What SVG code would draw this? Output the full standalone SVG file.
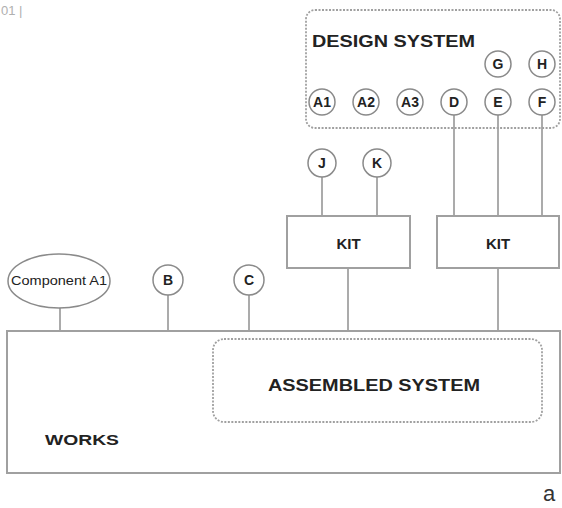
<svg xmlns="http://www.w3.org/2000/svg" width="562" height="508" viewBox="0 0 562 508">
<style>
.c{fill:#fff;stroke:#8a8a8a;stroke-width:1.5}
.box{fill:#fff;stroke:#a0a0a0;stroke-width:2}
.dot{fill:none;stroke:#a0a0a0;stroke-width:1.8;stroke-dasharray:2 1.5}
.lbl{font-family:"Liberation Sans",Arial,sans-serif;font-weight:bold;font-size:14px;fill:#222;text-anchor:middle}
.big{font-family:"Liberation Sans",Arial,sans-serif;font-weight:bold;fill:#222}
#connectors line{stroke:#8f8f8f;stroke-width:1.5}
</style>
<rect width="562" height="508" fill="#fff"/>
<text x="1" y="15" font-family="Liberation Sans,Arial,sans-serif" font-size="13" fill="#b0b0b0">01 |</text>
<g id="connectors">
<line x1="322" y1="177" x2="322" y2="216"/>
<line x1="377" y1="177" x2="377" y2="216"/>
<line x1="454" y1="115" x2="454" y2="216"/>
<line x1="498" y1="115" x2="498" y2="216"/>
<line x1="542" y1="115" x2="542" y2="216"/>
<line x1="348" y1="268" x2="348" y2="331"/>
<line x1="498" y1="268" x2="498" y2="331"/>
<line x1="60" y1="308" x2="60" y2="331"/>
<line x1="168" y1="295" x2="168" y2="331"/>
<line x1="249" y1="295" x2="249" y2="331"/>
</g>
<g id="design-system">
<rect x="306" y="10" width="254" height="118" rx="9" class="dot"/>
<text x="312" y="47" class="big" font-size="17" textLength="163" lengthAdjust="spacingAndGlyphs">DESIGN SYSTEM</text>
</g>
<g id="A1"><circle cx="322" cy="102" r="13" class="c"/><text x="322" y="107" class="lbl">A1</text></g>
<g id="A2"><circle cx="366" cy="102" r="13" class="c"/><text x="366" y="107" class="lbl">A2</text></g>
<g id="A3"><circle cx="410" cy="102" r="13" class="c"/><text x="410" y="107" class="lbl">A3</text></g>
<g id="D"><circle cx="454" cy="102" r="13" class="c"/><text x="454" y="107" class="lbl">D</text></g>
<g id="E"><circle cx="498" cy="102" r="13" class="c"/><text x="498" y="107" class="lbl">E</text></g>
<g id="F"><circle cx="542" cy="102" r="13" class="c"/><text x="542" y="107" class="lbl">F</text></g>
<g id="G"><circle cx="498" cy="64" r="13" class="c"/><text x="498" y="69" class="lbl">G</text></g>
<g id="H"><circle cx="542" cy="64" r="13" class="c"/><text x="542" y="69" class="lbl">H</text></g>
<g id="J"><circle cx="322" cy="163" r="14" class="c"/><text x="322" y="168" class="lbl">J</text></g>
<g id="K"><circle cx="377" cy="163" r="14" class="c"/><text x="377" y="168" class="lbl">K</text></g>
<g id="kit1"><rect x="287" y="216" width="123" height="52" class="box"/><text x="348.5" y="249" class="big" font-size="15" text-anchor="middle">KIT</text></g>
<g id="kit2"><rect x="437" y="216" width="122" height="52" class="box"/><text x="498" y="249" class="big" font-size="15" text-anchor="middle">KIT</text></g>
<g id="componentA1"><ellipse cx="59" cy="281" rx="51" ry="27" class="c"/><text x="59" y="285" font-family="Liberation Sans,Arial,sans-serif" font-size="12" fill="#222" text-anchor="middle" textLength="96" lengthAdjust="spacingAndGlyphs">Component A1</text></g>
<g id="B"><circle cx="168" cy="280" r="15" class="c"/><text x="168" y="285" class="lbl">B</text></g>
<g id="C"><circle cx="249" cy="280" r="15" class="c"/><text x="249" y="285" class="lbl">C</text></g>
<g id="works">
<rect x="7" y="331" width="553" height="142" class="box"/>
<text x="45" y="445" class="big" font-size="15" textLength="74" lengthAdjust="spacingAndGlyphs">WORKS</text>
</g>
<g id="assembled-system">
<rect x="213" y="339" width="329" height="83" rx="11" class="dot"/>
<text x="268" y="391" class="big" font-size="17" textLength="212" lengthAdjust="spacingAndGlyphs">ASSEMBLED SYSTEM</text>
</g>
<text x="543" y="501" font-family="Liberation Sans,Arial,sans-serif" font-size="22" fill="#333">a</text>
</svg>
